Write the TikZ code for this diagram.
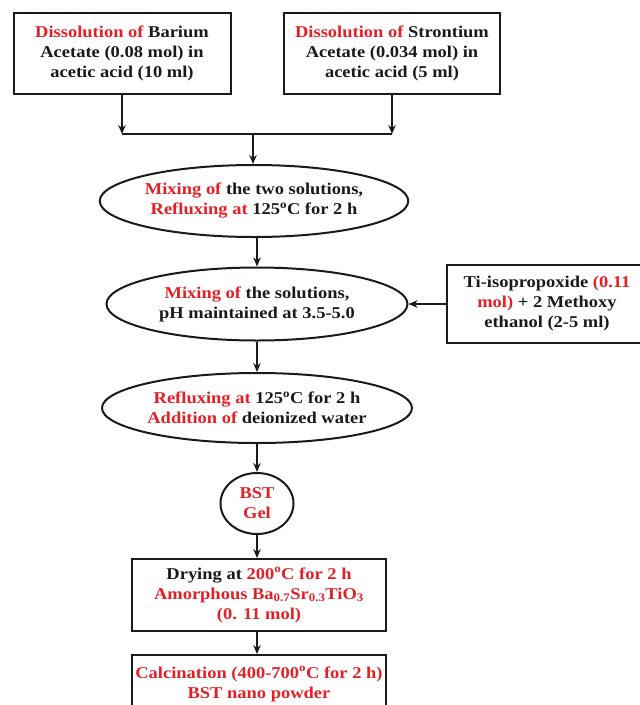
\documentclass[tikz,border=0pt]{standalone}
\usepackage{fontspec}
\setmainfont{Liberation Serif}[FakeStretch=1.12]
\usetikzlibrary{shapes.geometric,arrows.meta}
\definecolor{rd}{RGB}{226,32,38}
\definecolor{txt}{RGB}{26,26,26}
\newcommand\redt[1]{\textcolor{rd}{#1}}
\begin{document}
\begin{tikzpicture}[x=1pt,y=-1pt,
  every node/.style={font=\fontsize{16.5}{20}\selectfont\bfseries, align=center, text=txt, inner sep=0pt},
  box/.style={draw=txt, line width=2pt, rectangle},
  ell/.style={draw=txt, line width=2pt, ellipse},
  arr/.style={draw=txt, line width=2pt, -{Stealth[length=9pt,width=7.5pt]}},
  ln/.style={draw=txt, line width=2pt}]
\clip (0,0) rectangle (640,705);
\useasboundingbox (0,0) rectangle (640,705);

\node[box, minimum width=217pt, minimum height=81pt] (b1) at (122,53.5)
  {\redt{Dissolution of} Barium\\Acetate (0.08 mol) in\\acetic acid (10 ml)};
\node[box, minimum width=216pt, minimum height=81pt] (b2) at (392,53.5)
  {\redt{Dissolution of} Strontium\\Acetate (0.034 mol) in\\acetic acid (5 ml)};
\coordinate (j) at (253,134);

\node[ell, minimum width=303pt, minimum height=72pt] (e1) at (254,201)
  {\redt{Mixing of} the two solutions,\\\redt{Refluxing at} 125\textsuperscript{o}C for 2 h};
\node[ell, minimum width=301pt, minimum height=73pt] (e2) at (257,304)
  {\redt{Mixing of} the solutions,\\pH maintained at 3.5-5.0};
\node[box, minimum width=201pt, minimum height=78pt] (ti) at (547,304)
  {Ti-isopropoxide \redt{(0.11}\\\redt{mol)} + 2 Methoxy\\ethanol (2-5 ml)};
\node[ell, minimum width=309pt, minimum height=70pt] (e3) at (257,408)
  {\redt{Refluxing at} 125\textsuperscript{o}C for 2 h\\\redt{Addition of} deionized water};
\node[ell, minimum width=73pt, minimum height=61pt] (gel) at (257,503.5)
  {\redt{BST}\\\redt{Gel}};
\node[box, minimum width=254pt, minimum height=72pt] (b4) at (259,595)
  {Drying at \redt{200\textsuperscript{o}C for 2 h}\\\redt{Amorphous Ba\textsubscript{0.7}Sr\textsubscript{0.3}TiO\textsubscript{3}}\\\redt{(0. 11 mol)}};
\node[box, minimum width=254pt, minimum height=58pt] (b5) at (259,684)
  {\redt{Calcination (400-700\textsuperscript{o}C for 2 h)}\\\redt{BST nano powder}};

\draw[arr] (b1.south) -- (b1.south |- j);
\draw[arr] (b2.south) -- (b2.south |- j);
\draw[ln] (b1.south |- j) -- (b2.south |- j);
\draw[arr] (j) -- (j |- e1.north);
\draw[arr] (e2.north |- e1.south) -- (e2.north);
\draw[arr] (ti.west) -- (e2.east);
\draw[arr] (e2.south) -- (e2.south |- e3.north);
\draw[arr] (e3.south) -- (e3.south |- gel.north);
\draw[arr] (gel.south) -- (gel.south |- b4.north);
\draw[arr] (gel.south |- b4.south) -- (gel.south |- b5.north);
\end{tikzpicture}
\end{document}
